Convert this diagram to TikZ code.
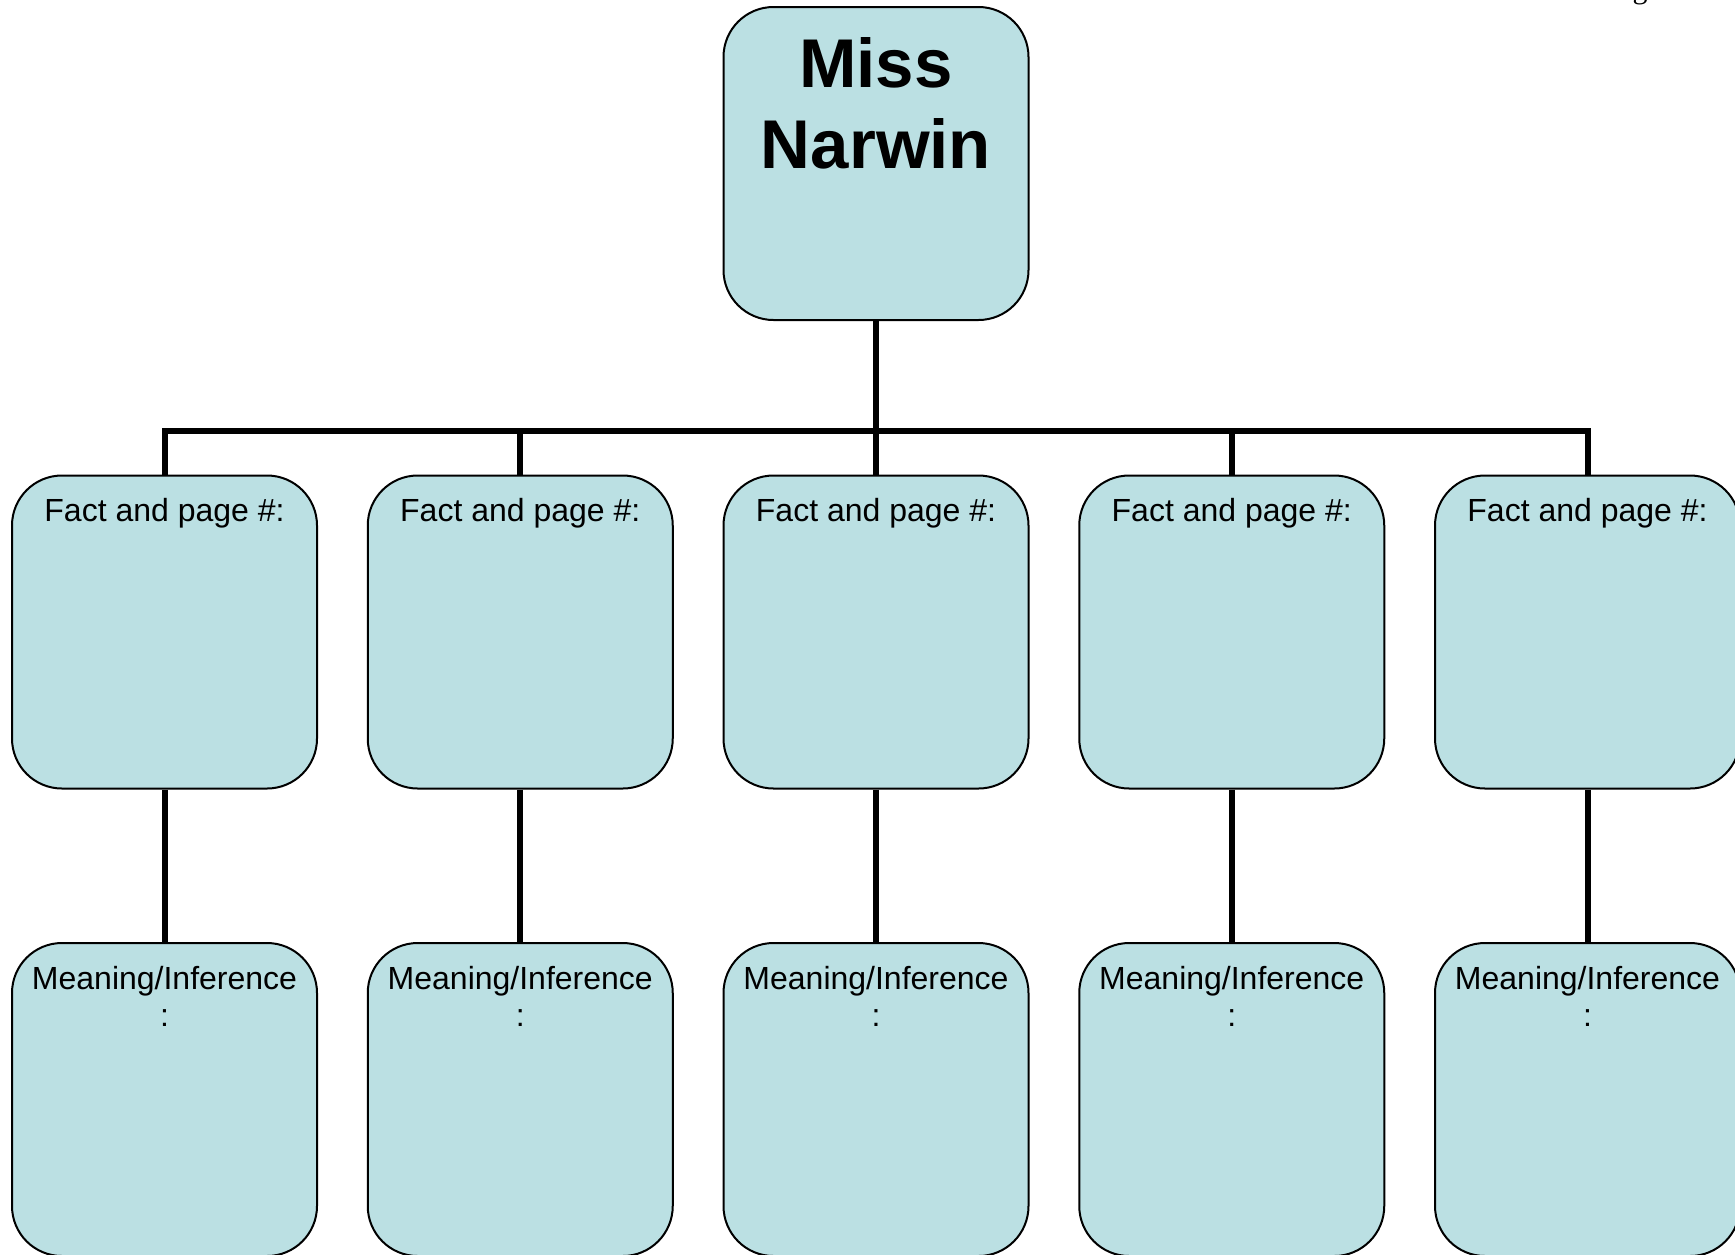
\documentclass[tikz,border=0pt]{standalone}
\usepackage{fontspec}
\setmainfont{Liberation Sans}
\newfontfamily\serifpart{Liberation Serif}
\definecolor{boxfill}{RGB}{187,224,227}
\begin{document}
\begin{tikzpicture}[x=1pt,y=1pt,
  cbox/.style={draw=black, line width=2pt, fill=boxfill, rounded corners=50pt,
    minimum width=305pt, minimum height=313pt, inner sep=0pt},
  ltext/.style={anchor=base, inner sep=0pt, font=\fontsize{32}{37}\selectfont},
  ttext/.style={anchor=base, inner sep=0pt, font=\fontsize{69}{80}\selectfont\bfseries},
  conn/.style={draw=black, line width=6pt}]
\useasboundingbox (0,0) rectangle (1735,-1254);
\node[anchor=base, inner sep=0pt, font=\fontsize{30}{34}\selectfont\serifpart] (gfrag) at (1640,1.5) {g};
% top box
\node[cbox] (top) at (876,-163.5) {};
\node[ttext] (t1) at ([yshift=-81pt]top.north) {Miss};
\node[ttext] (t2) at ([yshift=-162pt]top.north) {Narwin};
\coordinate (busy) at (0,-431);
\draw[conn] (top.south) -- (top.south |- busy);
\foreach \i in {0,...,4} {
  \pgfmathsetmacro{\cx}{164.5+355.75*\i}
  \node[cbox] (f\i) at (\cx,-632) {};
  \node[ltext] (ft\i) at ([yshift=-47pt]f\i.north) {Fact and page \#:};
  \node[cbox] (m\i) at (\cx,-1099.5) {};
  \node[ltext] (mt\i) at ([yshift=-47pt]m\i.north) {Meaning/Inference};
  \node[ltext] (mc\i) at ([yshift=-84pt]m\i.north) {:};
  \draw[conn] (f\i.north) |- (top.south |- busy);
  \draw[conn] (f\i.south) -- (m\i.north);
}
\end{tikzpicture}
\end{document}
